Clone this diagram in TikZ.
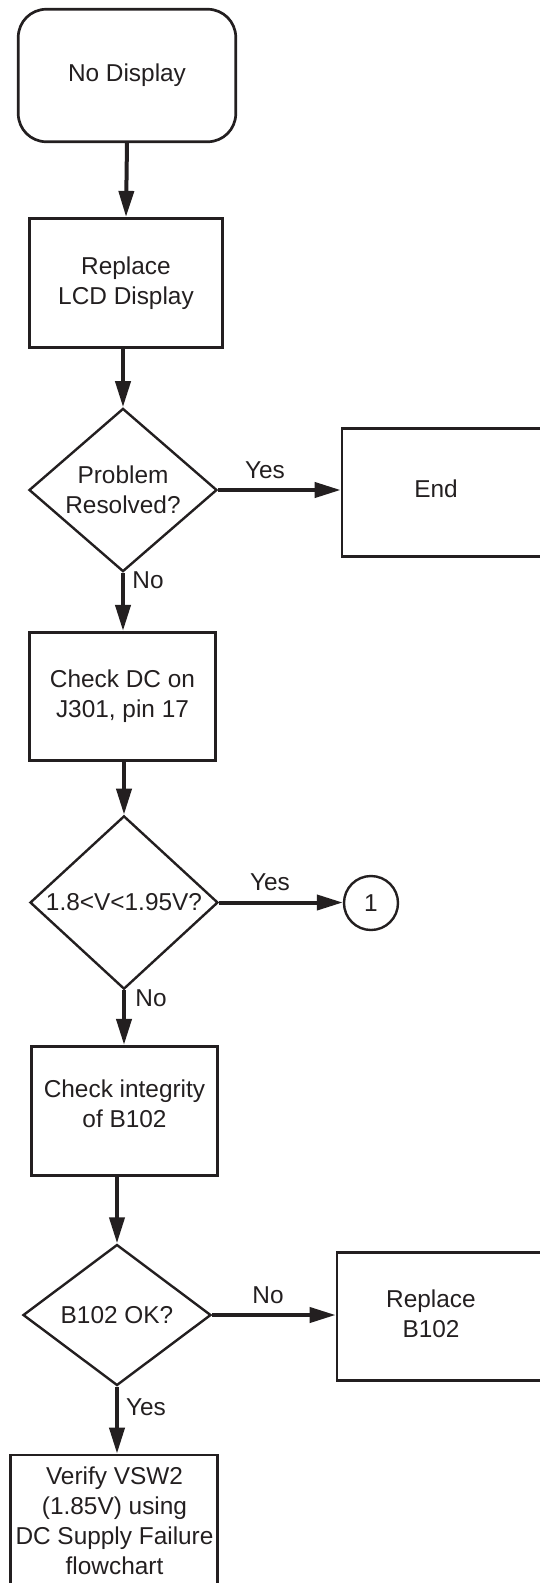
\documentclass[tikz,border=0pt]{standalone}
\usepackage{fontspec}
\setmainfont{Liberation Sans}
\usetikzlibrary{shapes.geometric,arrows.meta}
\definecolor{ink}{HTML}{231F20}
\begin{document}
\begin{tikzpicture}[x=1pt,y=-1pt,
  every node/.style={font=\fontsize{24.4}{30}\selectfont, text=ink},
  box/.style={draw=ink, line width=2.7pt, rectangle, inner sep=0pt, align=center},
  startbox/.style={box, rounded corners=28pt},
  dec/.style={draw=ink, line width=2.4pt, diamond, inner sep=0pt, minimum width=188pt, minimum height=141pt, align=center},
  conn/.style={draw=ink, circle, line width=2.4pt, minimum size=54pt, inner sep=0pt},
  arr/.style={draw=ink, line width=4pt, -{Triangle[length=26pt,width=15pt]}},
  lbl/.style={inner sep=0pt},
  txt/.style={inner sep=0pt, align=center}
]
\useasboundingbox (0,0) rectangle (540,1583);
\clip (0,0) rectangle (540,1583);

% nodes
\node[startbox, minimum width=217.5pt, minimum height=132.5pt] (start) at (127,75.5) {No Display};
\node[box, minimum width=192.5pt, minimum height=129.5pt] (rep) at (126,283) {Replace\\LCD Display};
\node[dec] (d1) at (123,490) {Problem\\Resolved?};
\node[box, minimum width=258pt, minimum height=128.5pt] (endbox) at (471,492.5) {};
\node[txt] (endt) at (436,489) {End};
\node[box, minimum width=186.5pt, minimum height=128.5pt] (chk) at (122.5,696.5) {Check DC on\\J301, pin 17};
\node[dec] (d2) at (124,902.5) {1.8<V<1.95V?};
\node[conn] (c1) at (371,903) {1};
\node[box, minimum width=186.5pt, minimum height=129.5pt] (integ) at (124.5,1111) {};
\node[txt] (integt) at (124.5,1104) {Check integrity\\of B102};
\node[dec] (d3) at (117,1315) {B102 OK?};
\node[box, minimum width=263pt, minimum height=128.5pt] (rb) at (468.5,1316.5) {};
\node[txt] (rbt) at (431,1314) {Replace\\B102};
\node[box, minimum width=207.5pt, minimum height=195pt] (ver) at (114,1552.5) {};
\node[txt, anchor=north] (vert) at (114.5,1467) {Verify VSW2\\(1.85V) using\\DC Supply Failure\\flowchart};

% connectors
\draw[arr] (start.south) -- (rep.north);
\draw[arr] (d1.north |- rep.south) -- (d1.north);
\draw[arr] (d1.east) -- (d1.east -| endbox.west);
\draw[arr] (d1.south) -- (d1.south |- chk.north);
\draw[arr] (d2.north |- chk.south) -- (d2.north);
\draw[arr] (d2.east) -- (d2.east -| c1.west);
\draw[arr] (d2.south) -- (d2.south |- integ.north);
\draw[arr] (d3.north |- integ.south) -- (d3.north);
\draw[arr] (d3.east) -- (d3.east -| rb.west);
\draw[arr] (d3.south) -- (d3.south |- ver.north);

% labels
\node[lbl] (y1) at (265,470) {Yes};
\node[lbl] (n1) at (148,580.5) {No};
\node[lbl] (y2) at (270,882) {Yes};
\node[lbl] (n2) at (151,998) {No};
\node[lbl] (n3) at (268,1295) {No};
\node[lbl] (y3) at (146,1407) {Yes};
\end{tikzpicture}
\end{document}
